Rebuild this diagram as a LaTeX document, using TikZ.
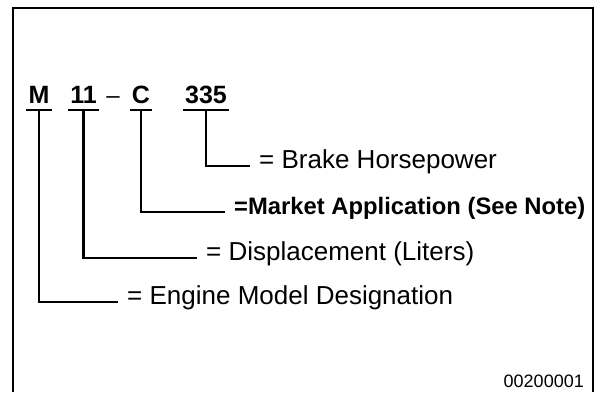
\documentclass[tikz,border=0pt]{standalone}
\usepackage{fontspec}
\setmainfont{Liberation Sans}
\begin{document}
\begin{tikzpicture}[x=1pt, y=1pt,
    code/.style={font=\bfseries\fontsize{25}{25}\selectfont, anchor=base,
      inner xsep=2pt, inner ysep=7pt, text depth=0pt},
    meaning/.style={font=\fontsize{26}{26}\selectfont, anchor=west,
      inner xsep=9pt, inner ysep=0pt, text height=0.75em, text depth=0.2em},
    lead/.style={line width=2.4pt},
    uline/.style={line width=1.8pt}]
            \useasboundingbox (0,0) rectangle (599,392);
            \draw[line width=1.5pt] (13,0) -- (13,384) -- (593,384) -- (593,0);

            \node[code] (model) at (39,289) {M};
            \node[code] (litres) at (83.5,289) {11};
            \node[code, font=\fontsize{24}{24}\selectfont] (join) at (113,289) {\textendash};
            \node[code] (market) at (141,289) {C};
            \node[code] (power) at (206,289) {335};
            \draw[uline] (model.south west) -- (model.south east);
            \draw[uline] (litres.south west) -- (litres.south east);
            \draw[uline] (market.south west) -- (market.south east);
            \draw[uline] (power.south west) -- (power.south east);

            \node[meaning] (brake) at (250,226) {= Brake Horsepower};
            \node[meaning, font=\bfseries\fontsize{23.8}{23.8}\selectfont] (appl) at (225,180) {=Market Application (See Note)};
            \node[meaning] (displ) at (197,134) {= Displacement (Liters)};
            \node[meaning] (engine) at (118,90) {= Engine Model Designation};
            \draw[lead] (power.south) |- (brake.west);
            \draw[lead] (market.south) |- (appl.west);
            \draw[lead] (litres.south) |- (displ.west);
            \draw[lead] (model.south) |- (engine.west);

            \node[anchor=base east, inner sep=0pt, font=\fontsize{18}{18}\selectfont] (fig) at (584,5) {00200001};
\end{tikzpicture}
\end{document}
